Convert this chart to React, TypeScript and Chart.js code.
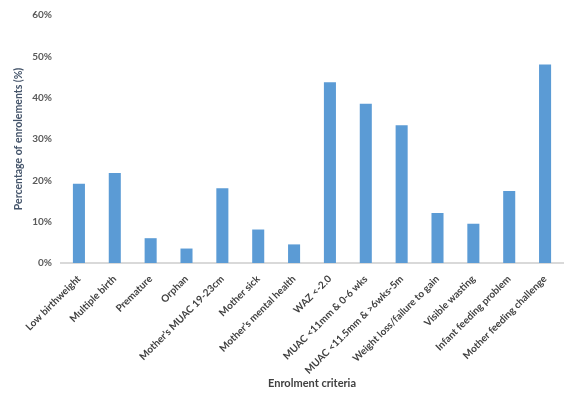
import React, { useEffect, useRef } from "react";
import { Chart, registerables } from "chart.js";

Chart.register(...registerables);

const categories = [
  "Low birthweight",
  "Multiple birth",
  "Premature",
  "Orphan",
  "Mother's MUAC 19-23cm",
  "Mother sick",
  "Mother's mental health",
  "WAZ <-2.0",
  "MUAC <11mm & 0-6 wks",
  "MUAC <11.5mm & >6wks-5m",
  "Weight loss/failure to gain",
  "Visible wasting",
  "Infant feeding problem",
  "Mother feeding challenge",
];

const percentages = [19.2, 21.8, 6.0, 3.5, 18.1, 8.1, 4.5, 43.7, 38.5, 33.3, 12.1, 9.5, 17.4, 48.0];

const yTickValues = [0, 10, 20, 30, 40, 50, 60];

const FONT = "Lato, 'Open Sans', sans-serif";

export default function App() {
  const ref = useRef<HTMLCanvasElement>(null);

  useEffect(() => {
    document.body.style.margin = "0";
    const ctx = ref.current!.getContext("2d")!;
    const chart = new Chart(ctx, {
      type: "bar",
      data: {
        labels: categories,
        datasets: [
          {
            data: percentages,
            backgroundColor: "#5B9BD5",
            borderWidth: 0,
            barPercentage: 0.6,
            categoryPercentage: 0.56,
          },
        ],
      },
      options: {
        animation: false,
        responsive: false,
        maintainAspectRatio: false,
        layout: { padding: { top: 11, right: 8, bottom: 5, left: 0 } },
        plugins: {
          legend: { display: false },
          tooltip: { enabled: false },
        },
        scales: {
          x: {
            grid: { display: false },
            border: { display: true, color: "#D9D9D9", width: 2 },
            ticks: {
              maxRotation: 45,
              minRotation: 45,
              autoSkip: false,
              padding: 2,
              color: "#404040",
              font: { family: FONT, size: 10, weight: "bold" },
            },
            title: {
              display: true,
              text: "Enrolment criteria",
              color: "#404040",
              font: { family: FONT, size: 11, weight: "bold" },
              padding: { top: 4, bottom: 4 },
            },
            afterFit: (scale: any) => {
              scale.height = 399 - 263 - 5;
            },
          },
          y: {
            min: 0,
            max: 60,
            grid: { display: false, drawTicks: false },
            border: { display: false },
            afterBuildTicks: (scale: any) => {
              scale.ticks = yTickValues.map((v) => ({ value: v }));
            },
            ticks: {
              padding: 9,
              color: "#595959",
              font: { family: FONT, size: 10, weight: "bold" },
              callback: (v: any) => v + "%",
            },
            title: {
              display: true,
              text: "Percentage of enrolements (%)",
              color: "#44546A",
              font: { family: FONT, size: 10.5, weight: "bold" },
              padding: { top: 12, bottom: 4 },
            },
            afterFit: (scale: any) => {
              scale.width = 61;
            },
          },
        },
      },
    });
    return () => chart.destroy();
  }, []);

  return (
    <div style={{ position: "absolute", left: 0, top: 0, width: 571, height: 399, background: "#fff" }}>
      <canvas ref={ref} width={571} height={399} />
    </div>
  );
}
